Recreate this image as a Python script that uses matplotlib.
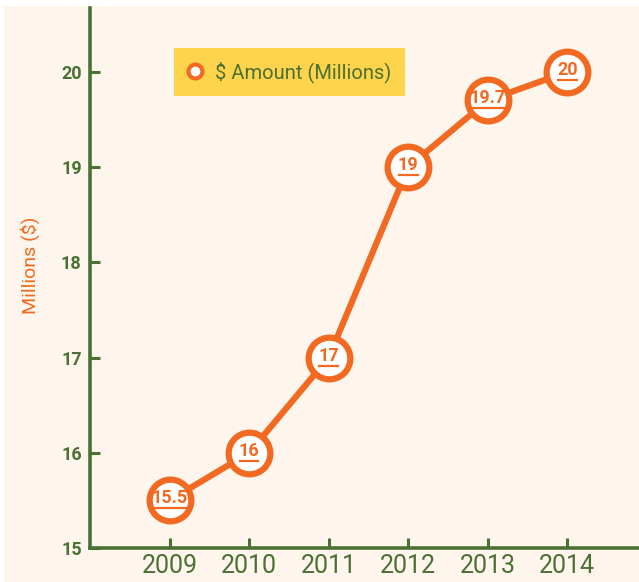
import matplotlib.pyplot as plt
from matplotlib.patches import Rectangle
from matplotlib.lines import Line2D

years = ["2009", "2010", "2011", "2012", "2013", "2014"]
amounts = [15.5, 16, 17, 19, 19.7, 20]
labels = ["15.5", "16", "17", "19", "19.7", "20"]
yticks = [15, 16, 17, 18, 19, 20]

orange = "#F26A22"
green = "#4A7033"
cream = "#FEF6EC"
yellow = "#FDD44B"

plt.rcParams["font.family"] = ["Roboto", "DejaVu Sans"]

fig = plt.figure(figsize=(6.39, 5.82), dpi=100, facecolor="white")
fig.patches.append(Rectangle((4 / 639, 0), 1, 1 - 6 / 582, transform=fig.transFigure,
                             facecolor=cream, edgecolor="none", zorder=-10))
ax = fig.add_axes([90 / 639, 34 / 582, 549 / 639, 540 / 582])
ax.set_facecolor("none")

x = list(range(len(years)))
ax.plot(x, amounts, color=orange, linewidth=4.5, marker="o", markersize=30,
        markerfacecolor="white", markeredgecolor=orange, markeredgewidth=4.5,
        zorder=3)

value_texts = []
for xi, yi, lab in zip(x, amounts, labels):
    t = ax.text(xi, yi + 0.02, lab, color=orange, fontsize=13, fontweight="bold",
                ha="center", va="center", zorder=4)
    value_texts.append(t)

ax.set_xlim(-1.0, 5.9)
ax.set_ylim(15, 20.67)
ax.set_xticks(x)
ax.set_xticklabels(years, fontsize=18, color=green)
ax.set_yticks(yticks)
ax.set_yticklabels([str(t) for t in yticks], fontsize=13, fontweight="bold", color=green)

for side in ["top", "right"]:
    ax.spines[side].set_visible(False)
for side in ["left", "bottom"]:
    ax.spines[side].set_color(green)
    ax.spines[side].set_linewidth(2.6)
ax.tick_params(axis="both", direction="in", color=green, width=2.2, length=7)
ax.tick_params(axis="y", pad=6)
ax.tick_params(axis="x", pad=4)

ax.set_ylabel("Millions ($)", color=orange, fontsize=14)
ax.yaxis.set_label_coords((40 - 90) / 549, (548 - 265) / 540)

leg_marker = Line2D([], [], color="none", marker="o", markersize=10,
                    markerfacecolor="white", markeredgecolor=orange, markeredgewidth=3)
leg = ax.legend([leg_marker], [r"\$ Amount (Millions)"], loc="upper left",
                bbox_to_anchor=((174 - 90) / 549, (548 - 48) / 540), borderaxespad=0,
                frameon=True, fancybox=False, facecolor=yellow, edgecolor="none",
                framealpha=1, fontsize=14.5, handlelength=0.8, handletextpad=0.6,
                borderpad=0.65, labelcolor=green)
leg.get_frame().set_linewidth(0)

# underline the value labels
fig.canvas.draw()
renderer = fig.canvas.get_renderer()
for t in value_texts:
    bb = t.get_window_extent(renderer)
    yline = bb.y0 - 1
    fig.lines.append(Line2D([bb.x0 + 1, bb.x1 - 1], [yline, yline], color=orange,
                            linewidth=1.6, transform=None, zorder=5))

fig.savefig("out.png", dpi=100, facecolor=fig.get_facecolor())
